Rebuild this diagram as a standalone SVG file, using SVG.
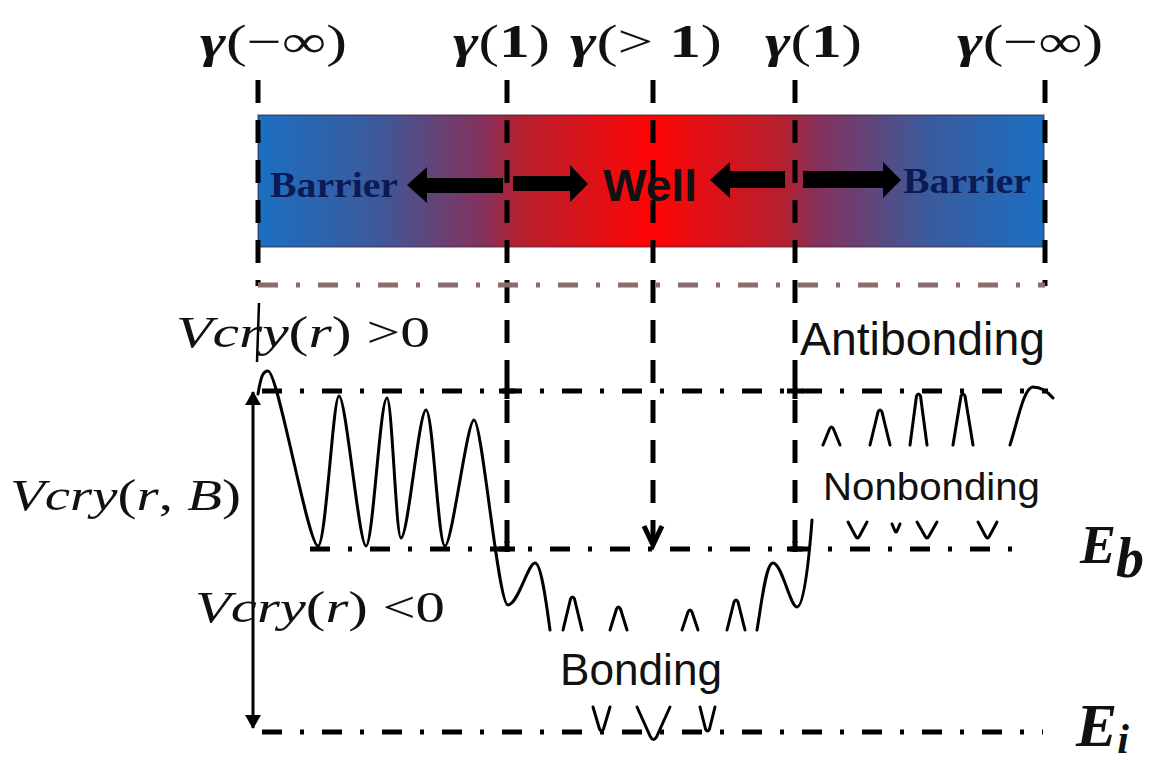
<svg xmlns="http://www.w3.org/2000/svg" width="1149" height="760" viewBox="0 0 1149 760">
<defs>
<linearGradient id="barGrad" x1="0" y1="0" x2="1" y2="0">
<stop offset="0" stop-color="#1b6fc2"/>
<stop offset="0.15" stop-color="#3b5a9c"/>
<stop offset="0.29" stop-color="#86305a"/>
<stop offset="0.33" stop-color="#b3202f"/>
<stop offset="0.5" stop-color="#ff0505"/>
<stop offset="0.67" stop-color="#b3202f"/>
<stop offset="0.71" stop-color="#86305a"/>
<stop offset="0.85" stop-color="#3b5a9c"/>
<stop offset="1" stop-color="#1b6fc2"/>
</linearGradient>
<marker id="ah" viewBox="0 0 14 18" refX="13" refY="9" markerWidth="14" markerHeight="18" markerUnits="userSpaceOnUse" orient="auto-start-reverse">
<path d="M0,1 L14,9 L0,17 Z" fill="#000"/>
</marker>
</defs>
<style>
.vd{stroke:#000;stroke-width:5;stroke-dasharray:23 17;fill:none}
.hd{stroke:#000;stroke-width:5;stroke-dasharray:20 18 4 18;fill:none}
.hb{stroke:#8b6b6b;stroke-width:5;stroke-dasharray:20 18 4 18;fill:none}
.wave{stroke:#000;stroke-width:3;fill:none;stroke-linecap:round;stroke-linejoin:round}
.blk{fill:#000}
.gam{font-family:"Liberation Serif","Times New Roman",serif;font-size:46px;fill:#111}
.gi{font-weight:bold;font-style:italic}
.bd{font-weight:bold}
.math{font-family:"Liberation Serif","Times New Roman",serif;font-size:44px;fill:#111}
.it{font-style:italic}
.sans{font-family:"Liberation Sans",Arial,sans-serif;fill:#111}
.bar{font-family:"Liberation Serif","Times New Roman",serif;font-size:36px;font-weight:bold;fill:#0c1a55}
.E{font-family:"Liberation Serif","Times New Roman",serif;font-weight:bold;font-style:italic;fill:#111}
</style>
<rect width="1149" height="760" fill="#fff"/>

<g id="bar">
<rect x="258" y="115" width="786" height="132" fill="url(#barGrad)" stroke="#3a1a30" stroke-opacity="0.4" stroke-width="2"/>
</g>

<g id="connectors">
<line class="vd" x1="258" y1="80" x2="258" y2="286"/>
<line class="vd" x1="507" y1="80" x2="507" y2="549"/>
<line class="vd" x1="653" y1="80" x2="653" y2="540"/>
<polyline points="644,526 653,545 662,526" fill="none" stroke="#000" stroke-width="5"/>
<line class="vd" x1="795" y1="80" x2="795" y2="549"/>
<line class="vd" x1="1045" y1="80" x2="1045" y2="286"/>
<line class="hb" x1="258" y1="285" x2="1045" y2="285"/>
<line class="hd" x1="262" y1="391" x2="1048" y2="391"/>
<line class="hd" x1="310" y1="549" x2="1015" y2="549"/>
<line class="hd" x1="262" y1="732" x2="1043" y2="732"/>
<path d="M507 383 V399 M499 391 H515 M795 383 V399 M787 391 H803 M507 541 V552 M499 549 H515 M795 541 V552 M787 549 H803" stroke="#000" stroke-width="5" fill="none"/>
<line x1="253" y1="392" x2="253" y2="728" stroke="#000" stroke-width="3" marker-start="url(#ah)" marker-end="url(#ah)"/>
<line x1="259" y1="303" x2="257" y2="362" stroke="#000" stroke-width="2.5"/>
<path class="blk" d="M503,178 L427,178 L427,167 L407,185 L427,203 L427,193 L503,193 Z"/>
<path class="blk" d="M513,176 L570,176 L570,165 L588,184 L570,202 L570,191 L513,191 Z"/>
<path class="blk" d="M785,171 L730,171 L730,162 L710,180 L730,198 L730,188 L785,188 Z"/>
<path class="blk" d="M803,171 L883,171 L883,162 L901,180 L883,198 L883,188 L803,188 Z"/>
<path class="wave" d="M258 394 C261 376, 263 371, 268 371 C278 371, 308 546, 318 546 C326 546, 333 396, 339 396 C346 396, 359 546, 366 546 C373 546, 380 398, 387 398 C392 398, 396 538, 401 538 C408 538, 419 410, 426 410 C433 410, 438 546, 445 546 C452 546, 467 420, 474 420 C482 420, 498 605, 508 605 C518 605, 528 563, 535 563 C541 563, 546 600, 550 630"/>
<path class="wave" d="M563 630 L570.5 599 Q572.5 595 574.5 599 L582 630 M610 630 L616.5 609 Q618.5 605 620.5 609 L627 630 M682 630 L688 612 Q690 608 692 612 L698 630 M727 630 L734 602 Q736 598 738 602 L745 630"/>
<path class="wave" d="M757 630 C762 600, 766 563, 773 563 C782 563, 790 607, 797 607 C804 607, 809 560, 812 520"/>
<path class="wave" d="M823 445 L829.5 429 Q831.5 425 833.5 429 L840 445 M870 445 L878 412 Q880 408 882 412 L890 445 M910 445 L916.5 396 Q918.5 392 920.5 396 L927 445 M953 445 L961 396 Q963 392 965 396 L973 445 M1010 445 C1018 420, 1024 387, 1033 387 C1042 387, 1048 392, 1053 398"/>
<path class="wave" d="M848 522 L855.5 536 Q857.5 540 859.5 536 L867 522 M892 524 L895 531 Q896 533 897 531 L900 524 M917 522 L925 536 Q927 540 929 536 L937 522 M978 522 L985.5 536 Q987.5 540 989.5 536 L997 522"/>
<path class="wave" d="M593 707 L599.5 729 Q601.5 733 603.5 729 L610 707 M637 707 L650.5 737 Q653.5 742 656.5 737 L670 707 M700 707 L705.5 729 Q707.5 733 709.5 729 L715 707"/>
</g>

<g id="labels-top">
<text id="g1" class="gam" x="200" y="57" textLength="147" lengthAdjust="spacingAndGlyphs"><tspan class="gi">γ</tspan>(−∞)</text>
<text id="g2" class="gam" x="453" y="57" textLength="97" lengthAdjust="spacingAndGlyphs"><tspan class="gi">γ</tspan>(<tspan class="bd">1</tspan>)</text>
<text id="g3" class="gam" x="570" y="57" textLength="152" lengthAdjust="spacingAndGlyphs"><tspan class="gi">γ</tspan>(&gt; <tspan class="bd">1</tspan>)</text>
<text id="g4" class="gam" x="765" y="57" textLength="97" lengthAdjust="spacingAndGlyphs"><tspan class="gi">γ</tspan>(<tspan class="bd">1</tspan>)</text>
<text id="g5" class="gam" x="957" y="57" textLength="146" lengthAdjust="spacingAndGlyphs"><tspan class="gi">γ</tspan>(−∞)</text>
</g>

<g id="bar-labels">
<text id="barrier-left" class="bar" x="270" y="197" textLength="128" lengthAdjust="spacingAndGlyphs">Barrier</text>
<text id="well" class="sans" x="603" y="201" font-size="44" font-weight="bold" fill="#8a0a14" textLength="94" lengthAdjust="spacingAndGlyphs">Well</text>
<text id="barrier-right" class="bar" x="903" y="193" textLength="128" lengthAdjust="spacingAndGlyphs">Barrier</text>
</g>

<g id="energy-labels">
<text id="vpos" class="math" x="176" y="347" textLength="254" lengthAdjust="spacingAndGlyphs"><tspan class="it">Vcry</tspan>(<tspan class="it">r</tspan>) &gt;0</text>
<text id="vrb" class="math" x="10" y="510" textLength="231" lengthAdjust="spacingAndGlyphs"><tspan class="it">Vcry</tspan>(<tspan class="it">r</tspan>, <tspan class="it">B</tspan>)</text>
<text id="vneg" class="math" x="195" y="622" textLength="250" lengthAdjust="spacingAndGlyphs"><tspan class="it">Vcry</tspan>(<tspan class="it">r</tspan>) &lt;0</text>
<text id="antibonding" class="sans" x="800" y="355" font-size="46" textLength="245" lengthAdjust="spacingAndGlyphs">Antibonding</text>
<text id="nonbonding" class="sans" x="823" y="500" font-size="38" textLength="217" lengthAdjust="spacingAndGlyphs">Nonbonding</text>
<text id="bonding" class="sans" x="560" y="685" font-size="44" textLength="162" lengthAdjust="spacingAndGlyphs">Bonding</text>
<text id="Eb" class="E" x="1080" y="563" font-size="54">E<tspan font-size="56" dy="14">b</tspan></text>
<text id="Ei" class="E" x="1076" y="746" font-size="62">E<tspan font-size="42" dy="7">i</tspan></text>
</g>
</svg>
